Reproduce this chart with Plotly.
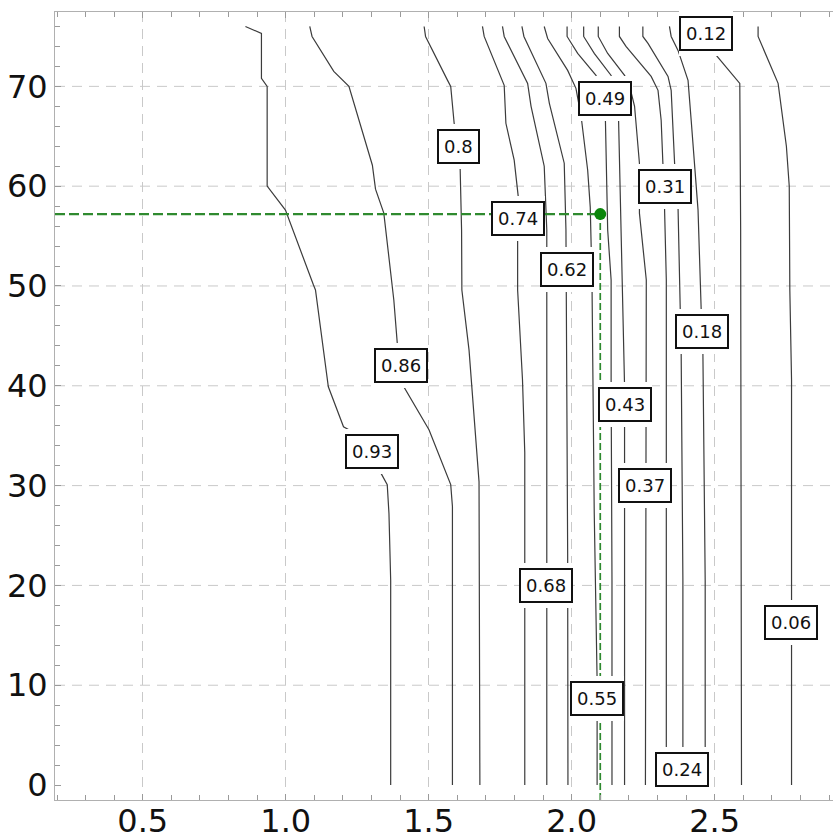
import plotly.graph_objects as go

# Contour levels and the polyline of each level (x, y)
LEVELS = [0.93, 0.86, 0.8, 0.74, 0.68, 0.62, 0.55, 0.49, 0.43, 0.37, 0.31, 0.24, 0.18, 0.12, 0.06]

c093_x = [0.859, 0.915, 0.915, 0.935, 0.935, 0.999, 1.097, 1.104, 1.149, 1.202, 1.227, 1.300, 1.332, 1.355, 1.361, 1.367, 1.367]
c093_y = [76.0, 75.3, 70.8, 70.0, 60.0, 57.6, 50.1, 49.6, 39.9, 35.9, 35.5, 33.4, 31.3, 30.1, 27.2, 20.5, 0.0]

c086_x = [1.084, 1.092, 1.168, 1.221, 1.303, 1.314, 1.343, 1.378, 1.390, 1.402, 1.413, 1.501, 1.577, 1.583, 1.583]
c086_y = [76.0, 75.0, 71.5, 70.0, 62.1, 59.7, 57.3, 48.6, 44.3, 42.0, 39.9, 35.6, 30.1, 27.9, 0.0]

c080_x = [1.484, 1.489, 1.566, 1.577, 1.589, 1.603, 1.610, 1.615, 1.616, 1.641, 1.676, 1.679]
c080_y = [76.0, 75.0, 70.6, 70.0, 66.3, 64.0, 61.8, 55.6, 49.6, 43.6, 30.4, 0.0]

c074_x = [1.688, 1.694, 1.764, 1.770, 1.799, 1.813, 1.811, 1.811, 1.811, 1.828, 1.836, 1.836]
c074_y = [76.0, 75.0, 70.1, 66.3, 62.6, 59.0, 56.8, 54.6, 49.6, 40.6, 33.3, 0.0]

c068_x = [1.758, 1.764, 1.846, 1.858, 1.904, 1.913, 1.913]
c068_y = [76.0, 75.0, 70.3, 68.0, 62.0, 55.6, 0.0]

c062_x = [1.826, 1.833, 1.910, 1.922, 1.974, 1.980, 1.986, 1.987]
c062_y = [76.0, 75.0, 70.3, 68.3, 62.3, 55.6, 23.2, 0.0]

c055_x = [1.904, 1.916, 1.986, 2.015, 2.033, 2.056, 2.065, 2.071, 2.079, 2.089, 2.089]
c055_y = [76.0, 74.8, 71.6, 69.8, 67.0, 61.6, 57.9, 50.6, 27.2, 10.5, 0.0]

c049_x = [1.984, 1.984, 2.021, 2.085, 2.115, 2.118, 2.126, 2.138, 2.138, 2.141, 2.141]
c049_y = [76.0, 75.0, 73.3, 71.1, 68.8, 66.7, 55.6, 50.6, 40.3, 20.5, 0.0]

c043_x = [2.042, 2.042, 2.079, 2.138, 2.164, 2.173, 2.179, 2.185, 2.185]
c043_y = [76.0, 75.0, 73.3, 71.1, 66.7, 55.6, 50.6, 40.0, 0.0]

c037_x = [2.093, 2.093, 2.126, 2.185, 2.202, 2.220, 2.237, 2.237, 2.261, 2.258]
c037_y = [76.0, 75.0, 73.3, 71.1, 70.1, 68.0, 62.3, 57.3, 50.6, 0.0]

c031_x = [2.167, 2.167, 2.190, 2.278, 2.302, 2.313, 2.319, 2.325, 2.325, 2.331, 2.331]
c031_y = [76.0, 75.0, 74.0, 71.0, 69.6, 66.6, 62.3, 60.0, 57.6, 50.6, 0.0]

c024_x = [2.249, 2.249, 2.267, 2.337, 2.348, 2.360, 2.372, 2.377, 2.383, 2.389, 2.389]
c024_y = [76.0, 75.0, 74.3, 71.0, 69.6, 62.3, 57.9, 50.6, 43.3, 20.5, 0.0]

c018_x = [2.342, 2.348, 2.372, 2.407, 2.418, 2.430, 2.442, 2.453, 2.457, 2.459, 2.467, 2.467]
c018_y = [76.0, 75.0, 73.6, 70.6, 66.6, 61.6, 57.6, 47.6, 45.4, 43.3, 20.5, 0.0]

c012_x = [2.468, 2.470, 2.506, 2.588, 2.591, 2.594]
c012_y = [76.0, 75.3, 73.1, 70.3, 55.6, 0.0]

c006_x = [2.652, 2.652, 2.722, 2.751, 2.761, 2.761, 2.763, 2.769, 2.769]
c006_y = [76.0, 75.0, 70.3, 64.0, 60.0, 55.6, 49.6, 40.6, 0.0]

CONTOURS_X = [c093_x, c086_x, c080_x, c074_x, c068_x, c062_x, c055_x, c049_x,
              c043_x, c037_x, c031_x, c024_x, c018_x, c012_x, c006_x]
CONTOURS_Y = [c093_y, c086_y, c080_y, c074_y, c068_y, c062_y, c055_y, c049_y,
              c043_y, c037_y, c031_y, c024_y, c018_y, c012_y, c006_y]

# Inline label anchor on each contour (same order as LEVELS)
LABEL_X = [1.301, 1.402, 1.603, 1.814, 1.911, 1.985, 2.088, 2.115, 2.187, 2.257, 2.325, 2.387, 2.457, 2.470, 2.768]
LABEL_Y = [33.4, 42.0, 64.0, 56.8, 20.0, 51.7, 8.7, 68.8, 38.1, 30.0, 60.0, 1.6, 45.4, 75.3, 16.3]

# Selected operating point
POINT_X = 2.1
POINT_Y = 57.2

X_RANGE = [0.193, 2.914]
Y_RANGE = [-1.5, 77.45]
X_TICKS = [0.5, 1.0, 1.5, 2.0, 2.5]
Y_TICKS = [0, 10, 20, 30, 40, 50, 60, 70]

FONT = "DejaVu Sans"
LINE_COLOR = "#3c3c3c"
GRID_COLOR = "#c9c9c9"
AXIS_COLOR = "#b0b0b0"
TICK_COLOR = "#9a9a9a"
GREEN = "#2f8a2f"

fig = go.Figure()

for lvl, xs, ys in zip(LEVELS, CONTOURS_X, CONTOURS_Y):
    fig.add_trace(go.Scatter(
        x=xs, y=ys, mode="lines", name=str(lvl),
        line=dict(color=LINE_COLOR, width=1.2),
        hoverinfo="skip", showlegend=False,
    ))

# Dashed guides from the axes to the selected point
fig.add_trace(go.Scatter(
    x=[X_RANGE[0], POINT_X], y=[POINT_Y, POINT_Y], mode="lines",
    line=dict(color=GREEN, width=2.4, dash="10px,4px"),
    hoverinfo="skip", showlegend=False,
))
fig.add_trace(go.Scatter(
    x=[POINT_X, POINT_X], y=[Y_RANGE[0], POINT_Y], mode="lines",
    line=dict(color=GREEN, width=1.7, dash="7px,3px"),
    hoverinfo="skip", showlegend=False,
))
fig.add_trace(go.Scatter(
    x=[POINT_X], y=[POINT_Y], mode="markers",
    marker=dict(color="#0b860b", size=12, line=dict(width=0)),
    hoverinfo="skip", showlegend=False,
))

# Horizontal grid (no line at the zero level)
for yv in Y_TICKS[1:]:
    fig.add_shape(type="line", xref="x domain", yref="y", x0=0, x1=1, y0=yv, y1=yv,
                  line=dict(color=GRID_COLOR, width=1, dash="10px,7px"), layer="below")

# Contour labels: a white halo to open a gap in the lines, then the framed box
for lvl, lx, ly in zip(LEVELS, LABEL_X, LABEL_Y):
    txt = str(lvl)
    fig.add_annotation(x=lx, y=ly, text=txt, showarrow=False,
                       font=dict(family=FONT, size=18, color="white"),
                       bgcolor="white", borderpad=7, borderwidth=0, height=31)
    fig.add_annotation(x=lx, y=ly, text=txt, showarrow=False,
                       font=dict(family=FONT, size=18, color="#111111"),
                       bgcolor="white", bordercolor="#111111", borderwidth=2, borderpad=5)

fig.update_layout(
    width=833, height=839,
    margin=dict(l=55, r=0, t=12, b=39, pad=0),
    paper_bgcolor="white", plot_bgcolor="white",
    template="none",
    font=dict(family=FONT, color="#111111"),
    showlegend=False,
)

fig.update_xaxes(
    range=X_RANGE, tickvals=X_TICKS, ticktext=[f"{v:.1f}" for v in X_TICKS],
    ticks="inside", ticklen=6, tickcolor=TICK_COLOR, tickwidth=1,
    showline=True, linecolor=AXIS_COLOR, linewidth=1, mirror="ticks",
    showgrid=True, gridcolor=GRID_COLOR, gridwidth=1, griddash="10px,7px",
    zeroline=False, automargin=False, ticklabelstandoff=-7,
    tickfont=dict(family=FONT, size=32, color="#111111"),
    minor=dict(dtick=0.1, tick0=0, ticks="inside", ticklen=5, tickcolor=TICK_COLOR, showgrid=False),
)
fig.update_yaxes(
    range=Y_RANGE, tickvals=Y_TICKS,
    ticks="inside", ticklen=6, tickcolor=TICK_COLOR, tickwidth=1,
    showline=True, linecolor=AXIS_COLOR, linewidth=1, mirror=False,
    showgrid=False, zeroline=False, automargin=False,
    tickfont=dict(family=FONT, size=32, color="#111111"),
    minor=dict(dtick=2, tick0=0, ticks="inside", ticklen=5, tickcolor=TICK_COLOR, showgrid=False),
)

fig.write_html("out.html")
